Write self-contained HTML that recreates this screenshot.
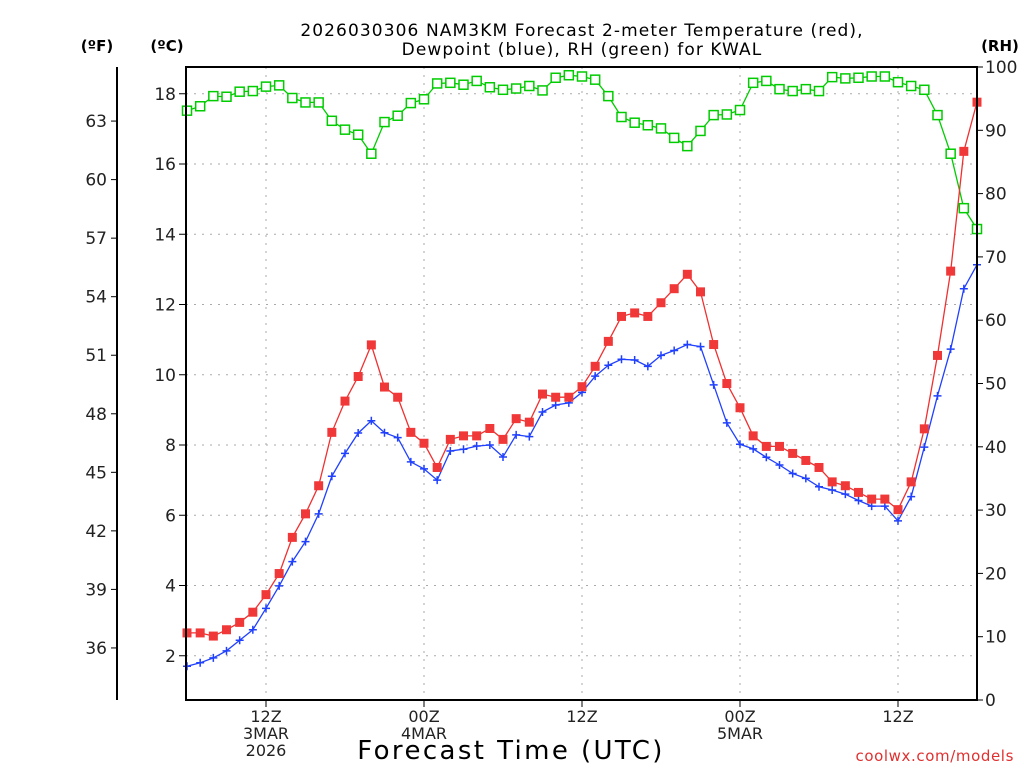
<!DOCTYPE html>
<html><head><meta charset="utf-8"><style>
body{margin:0;background:#fff;}
svg{display:block;font-family:"DejaVu Sans","Liberation Sans",sans-serif;}
</style></head><body>
<svg id="chart" width="1024" height="768" viewBox="0 0 1024 768" xmlns="http://www.w3.org/2000/svg">
<rect width="1024" height="768" fill="#fff"/>
<text x="582" y="36" font-size="17" text-anchor="middle" fill="#000" letter-spacing="1.1">2026030306 NAM3KM Forecast 2-meter Temperature (red),</text>
<text x="582" y="55" font-size="17" text-anchor="middle" fill="#000" letter-spacing="1.1">Dewpoint (blue), RH (green) for KWAL</text>
<text x="97" y="51" font-size="15" font-weight="bold" text-anchor="middle">(ºF)</text>
<text x="167" y="51" font-size="15" font-weight="bold" text-anchor="middle">(ºC)</text>
<text x="1000" y="51" font-size="15" font-weight="bold" text-anchor="middle">(RH)</text>
<text x="511" y="759" font-size="26" text-anchor="middle" letter-spacing="2.4">Forecast Time (UTC)</text>
<text x="1014" y="761" font-size="15" text-anchor="end" fill="#e03030" letter-spacing="0.6">coolwx.com/models</text>
<g id="grid"></g><g id="series"></g><g id="axes"></g>
</svg>
<script>
const hours=[];for(let h=6;h<=66;h++)hours.push(h);
const tempC=[2.65,2.65,2.56,2.74,2.95,3.24,3.74,4.34,5.37,6.04,6.84,8.36,9.25,9.95,10.85,9.65,9.36,8.36,8.05,7.36,8.16,8.26,8.26,
8.47,8.16,8.75,8.65,9.45,9.36,9.36,9.66,10.24,10.95,11.66,11.76,11.66,12.05,12.45,12.86,12.36,10.86,9.75,
9.06,8.26,7.96,7.96,7.76,7.56,7.36,6.95,6.84,6.65,6.46,6.46,6.16,6.95,8.46,10.55,12.95,16.36,17.76];
const dewC=[1.70,1.80,1.94,2.14,2.44,2.74,3.35,3.99,4.68,5.25,6.04,7.11,7.76,8.34,8.69,8.35,8.21,7.52,7.32,7.00,7.83,7.88,7.97,
8.00,7.66,8.29,8.24,8.94,9.14,9.20,9.50,9.96,10.27,10.44,10.42,10.24,10.55,10.69,10.86,10.80,9.71,8.63,
8.02,7.89,7.65,7.43,7.19,7.05,6.81,6.72,6.60,6.42,6.26,6.26,5.84,6.53,7.94,9.40,10.73,12.45,13.13];
const rh=[93.1,93.8,95.4,95.3,96.1,96.2,96.9,97.1,95.1,94.4,94.4,91.5,90.1,89.3,86.3,91.3,92.3,94.3,94.9,97.4,97.5,97.2,97.8,
96.8,96.4,96.6,97.0,96.3,98.3,98.7,98.5,98.0,95.4,92.1,91.2,90.8,90.3,88.8,87.5,89.9,92.4,92.5,
93.2,97.5,97.8,96.5,96.2,96.5,96.2,98.4,98.2,98.3,98.5,98.5,97.6,97.0,96.4,92.4,86.3,77.7,74.4];
const cTicks=[2,4,6,8,10,12,14,16,18];
const fTicks=[36,39,42,45,48,51,54,57,60,63];
const rhTicks=[0,10,20,30,40,50,60,70,80,90,100];
const xTicks=[12,24,36,48,60];
const xTickLabels=[["12Z","3MAR","2026"],["00Z","4MAR"],["12Z"],["00Z","5MAR"],["12Z"]];
const L=186,R=977,T=67,B=700;
const xS=h=>187+(h-6)*(790/60);
const yC=c=>726-c*35.125;
const yF=f=>yC((f-32)*5/9);
const yR=r=>B-r*(B-T)/100;
const NS="http://www.w3.org/2000/svg";
function mk(tag,attrs,parent,txt){const e=document.createElementNS(NS,tag);for(const k in attrs)e.setAttribute(k,attrs[k]);if(txt!==undefined)e.textContent=txt;parent.appendChild(e);return e;}
const grid=document.getElementById('grid'),ser=document.getElementById('series'),ax=document.getElementById('axes');
cTicks.forEach(c=>{const e=mk('line',{x1:L,x2:R,y1:yC(c),y2:yC(c),stroke:'#aaa','stroke-dasharray':'2,6'},grid);

});
xTicks.forEach(h=>{const e=mk('line',{x1:xS(h),x2:xS(h),y1:T,y2:B,stroke:'#aaa','stroke-dasharray':'2,6'},grid);

});
function line(vals,yf,color,name){const p=vals.map((v,i)=>xS(hours[i]).toFixed(1)+','+yf(v).toFixed(1)).join(' ');
const e=mk('polyline',{points:p,fill:'none',stroke:color,'stroke-width':1.3},ser);

}
line(rh,yR,'#00cc00','rh-line');
line(dewC,yC,'#2040ff','dewpoint-line');
line(tempC,yC,'#f03030','temperature-line');
rh.forEach((v,i)=>{const e=mk('rect',{x:xS(hours[i])-4.5,y:yR(v)-4.5,width:9,height:9,fill:'#fff',stroke:'#00cc00','stroke-width':1.5},ser);

});
dewC.forEach((v,i)=>{const x=xS(hours[i]),y=yC(v);const e=mk('path',{d:`M${x-4},${y}H${x+4}M${x},${y-4}V${y+4}`,stroke:'#2040ff','stroke-width':1.5},ser);

});
tempC.forEach((v,i)=>{const e=mk('rect',{x:xS(hours[i])-4.5,y:yC(v)-4.5,width:9,height:9,fill:'#f03838'},ser);

});
const box=mk('rect',{x:L,y:T,width:R-L,height:B-T,fill:'none',stroke:'#000','stroke-width':2},ax);


cTicks.forEach(c=>{mk('line',{x1:L-7,x2:L,y1:yC(c),y2:yC(c),stroke:'#000'},ax);
const t=mk('text',{x:L-10,y:yC(c)+6,'font-size':17,'text-anchor':'end',fill:'#222'},ax,String(c));

});
const fl=mk('line',{x1:117,x2:117,y1:67,y2:700,stroke:'#000','stroke-width':2},ax);


fTicks.forEach(f=>{mk('line',{x1:111,x2:117,y1:yF(f),y2:yF(f),stroke:'#000'},ax);
const t=mk('text',{x:107,y:yF(f)+6,'font-size':17,'text-anchor':'end',fill:'#222'},ax,String(f));

});
rhTicks.forEach(r=>{mk('line',{x1:R,x2:R+6,y1:yR(r),y2:yR(r),stroke:'#000'},ax);
const t=mk('text',{x:R+8,y:yR(r)+6,'font-size':17,fill:'#222'},ax,String(r));

});
xTicks.forEach((h,i)=>{mk('line',{x1:xS(h),x2:xS(h),y1:B,y2:B+7,stroke:'#000'},ax);
xTickLabels[i].forEach((s,j)=>{const t=mk('text',{x:xS(h),y:722+j*17,'font-size':16,'text-anchor':'middle',fill:'#222'},ax,s);

});});
</script>
</body></html>
